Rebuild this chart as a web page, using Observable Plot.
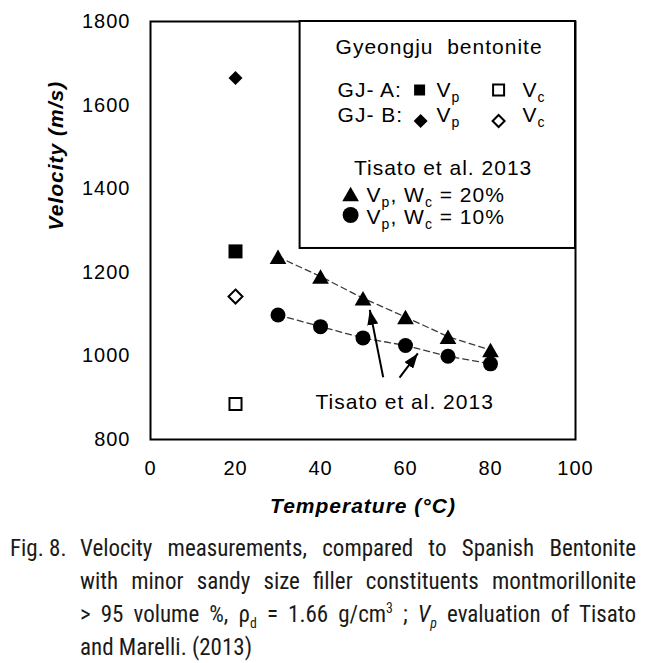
<!DOCTYPE html>
<html>
<head>
<meta charset="utf-8">
<script src="https://cdn.jsdelivr.net/npm/d3@7"></script>
<script src="https://cdn.jsdelivr.net/npm/@observablehq/plot@0.6"></script>
<style>
html,body{margin:0;padding:0;background:#fff;}
#wrap{position:relative;width:654px;height:663px;overflow:hidden;background:#fff;}
#chart{position:absolute;left:0;top:0;}
#chart svg text{letter-spacing:1px;}
#caption{position:absolute;left:0;top:532px;width:654px;font-family:"Liberation Sans Narrow","Roboto Condensed","DejaVu Sans Condensed","Liberation Sans",sans-serif;font-size:23px;line-height:33px;color:#1a1a1a;}
.cl{position:relative;height:33px;}
.cl .fig{position:absolute;left:10px;top:0;white-space:nowrap;}
.cl .txt{position:absolute;left:80px;top:0;white-space:nowrap;transform-origin:0 50%;}
sub,sup{font-size:60%;line-height:0;}
</style>
</head>
<body>
<div id="wrap"><div id="chart"></div><div id="caption"></div></div>
<script>
// ---------- data ----------
const tisatoTemp = [30, 40, 50, 60, 70, 80];
const tisatoVpWc20 = [1237, 1190, 1138, 1093, 1046, 1014];
const tisatoVpWc10 = [1098, 1070, 1043, 1025, 999, 981];
const gjTemp = [20, 20, 20, 20];
const gjLabels = ["GJ-A Vp", "GJ-A Vc", "GJ-B Vp", "GJ-B Vc"];
const gjVelocity = [1250, 885, 1665, 1142];
const xTicks = [0, 20, 40, 60, 80, 100];
const yTicks = [800, 1000, 1200, 1400, 1600, 1800];
const xLabel = "Temperature (°C)";
const yLabel = "Velocity (m/s)";
const annotationText = ["Tisato et al. 2013"];
const annotationX = [59.8];
const annotationY = [890];
const arrowFromX = [54.75, 58.6];
const arrowFromY = [949, 948];
const arrowToX = [51.6, 62.9];
const arrowToY = [1110, 1006];
const legendBoxX = [35.2, 100];
const legendBoxY = [1257, 1800];
const legendTitle = "Gyeongju  bentonite";
const legendRows = ["GJ- A:", "GJ- B:"];
const legendVp = "V_p";
const legendVc = "V_c";
const legendTisatoTitle = "Tisato et al. 2013";
const legendTisatoRows = ["V_p, W_c = 20%", "V_p, W_c = 10%"];
const captionFig = "Fig. 8.";
const captionLines = [
  "Velocity measurements, compared to Spanish Bentonite",
  "with minor sandy size filler constituents montmorillonite",
  "&gt; 95 volume %, &rho;<sub>d</sub> = 1.66 g/cm<sup>3</sup> ; <i>V<sub>p</sub></i> evaluation of Tisato",
  "and Marelli. (2013)"
];

// ---------- tables ----------
const w20 = tisatoTemp.map((t, i) => ({t, v: tisatoVpWc20[i]}));
const w10 = tisatoTemp.map((t, i) => ({t, v: tisatoVpWc10[i]}));
const gj = gjLabels.map((label, i) => ({label, t: gjTemp[i], v: gjVelocity[i]}));
const pick = (l) => gj.filter((d) => d.label === l);
const arrows = d3.range(arrowFromX.length);

const FONT = "'Liberation Sans', Arial, Helvetica, sans-serif";

function filledArrow(color) {
  const m = d3.create("svg:marker")
    .attr("viewBox", "-15 -5.5 15 11")
    .attr("markerWidth", 15).attr("markerHeight", 11)
    .attr("markerUnits", "userSpaceOnUse")
    .attr("orient", "auto").attr("refX", 0).attr("refY", 0);
  m.append("path").attr("d", "M-15,-5.5L0,0L-15,5.5Z").attr("fill", color).attr("stroke", "none");
  return m.node();
}

function build(marker) {
  return Plot.plot({
    width: 654,
    height: 530,
    marginLeft: 150,
    marginRight: 79,
    marginTop: 21,
    marginBottom: 91,
    x: {domain: [0, 100]},
    y: {domain: [800, 1800]},
    style: {fontFamily: FONT, fontSize: "20px", color: "black", background: "white", overflow: "visible"},
    marks: [
      Plot.axisX({ticks: xTicks, tickSize: 0, tickPadding: 21, label: null, fontSize: 20, tickFormat: (d) => String(d)}),
      Plot.axisY({ticks: yTicks, tickSize: 0, tickPadding: 20, label: null, fontSize: 20, tickFormat: (d) => String(d)}),
      Plot.line(w20, {x: "t", y: "v", stroke: "#3a3a3a", strokeWidth: 1.3, strokeDasharray: "6,4"}),
      Plot.line(w10, {x: "t", y: "v", stroke: "#3a3a3a", strokeWidth: 1.3, strokeDasharray: "6,4"}),
      Plot.dot(w20, {x: "t", y: "v", symbol: "triangle", r: 6.2, fill: "black", dy: 2.4}),
      Plot.dot(w10, {x: "t", y: "v", symbol: "circle", r: 7.5, fill: "black"}),
      Plot.dot(pick("GJ-A Vp"), {x: "t", y: "v", symbol: "square", r: 7.9, fill: "black"}),
      Plot.dot(pick("GJ-A Vc"), {x: "t", y: "v", symbol: "square", r: 6.8, fill: "white", stroke: "black", strokeWidth: 2}),
      Plot.dot(pick("GJ-B Vp"), {x: "t", y: "v", symbol: "diamond2", r: 6.3, fill: "black"}),
      Plot.dot(pick("GJ-B Vc"), {x: "t", y: "v", symbol: "diamond2", r: 6.3, fill: "white", stroke: "black", strokeWidth: 2}),
      Plot.link(arrows, {
        x1: (i) => arrowFromX[i], y1: (i) => arrowFromY[i],
        x2: (i) => arrowToX[i], y2: (i) => arrowToY[i],
        stroke: "black", strokeWidth: 2, markerEnd: marker
      }),
      Plot.text(annotationText, {x: (d, i) => annotationX[i], y: (d, i) => annotationY[i], text: (d) => d, fontSize: 21, fill: "black"}),
      Plot.text([xLabel], {text: (d) => d, frameAnchor: "bottom", dy: 67, lineAnchor: "middle", fontSize: 21, fontWeight: "bold", fontStyle: "italic", fill: "black"}),
      Plot.text([yLabel], {text: (d) => d, frameAnchor: "left", dx: -94.5, rotate: -90, lineAnchor: "middle", fontSize: 21, fontWeight: "bold", fontStyle: "italic", fill: "black"}),
      Plot.frame({stroke: "black", strokeWidth: 2})
    ]
  });
}

let plot;
try { plot = build(filledArrow); } catch (e) { plot = build("arrow"); }
document.getElementById("chart").appendChild(plot);

// ---------- legend (positioned via the plot's scales) ----------
const svg = d3.select(plot);
const xs = plot.scale("x"), ys = plot.scale("y");
const lx = xs.apply(legendBoxX[0]), rx = xs.apply(legendBoxX[1]);
const ty = ys.apply(legendBoxY[1]), by = ys.apply(legendBoxY[0]);
const lg = svg.append("g").attr("font-family", FONT).attr("font-size", 21).attr("fill", "black");
lg.append("rect").attr("x", lx).attr("y", ty).attr("width", rx - lx).attr("height", by - ty)
  .attr("fill", "white").attr("stroke", "black").attr("stroke-width", 2);

function rich(x, y, str, anchor = "start") {
  const t = lg.append("text").attr("x", x).attr("y", y).attr("text-anchor", anchor).style("white-space", "pre");
  let shifted = false;
  for (const part of str.split(/(_\w)/)) {
    if (!part) continue;
    if (part[0] === "_") {
      t.append("tspan").attr("font-size", 14).attr("dy", shifted ? 0 : 5).text(part[1]);
      shifted = true;
    } else {
      t.append("tspan").attr("dy", shifted ? -5 : 0).text(part);
      shifted = false;
    }
  }
}
function sym(type, size, cx, cy, filled) {
  lg.append("path").attr("d", d3.symbol(type, size)()).attr("transform", `translate(${cx},${cy})`)
    .attr("fill", filled ? "black" : "white").attr("stroke", filled ? "none" : "black").attr("stroke-width", 2);
}

rich(lx + 139.5, ty + 33, legendTitle, "middle");
rich(lx + 38, ty + 76, legendRows[0]);
rich(lx + 38, ty + 101, legendRows[1]);
sym(d3.symbolSquare, 121, lx + 120, ty + 69, true);
rich(lx + 137, ty + 76, legendVp);
sym(d3.symbolSquare, 121, lx + 199, ty + 69, false);
rich(lx + 223, ty + 76, legendVc);
sym(d3.symbolDiamond2, 125, lx + 121, ty + 100, true);
rich(lx + 137, ty + 101, legendVp);
sym(d3.symbolDiamond2, 92, lx + 199, ty + 100, false);
rich(lx + 223, ty + 101, legendVc);
rich(lx + 143.5, ty + 154, legendTisatoTitle, "middle");
sym(d3.symbolTriangle, 120, lx + 51, ty + 175.4, true);
rich(lx + 67, ty + 181, legendTisatoRows[0]);
lg.append("circle").attr("cx", lx + 51).attr("cy", ty + 194).attr("r", 8).attr("fill", "black");
rich(lx + 67, ty + 203, legendTisatoRows[1]);

// ---------- caption ----------
const cap = document.getElementById("caption");
const target = 556;
captionLines.forEach((html, i) => {
  const line = document.createElement("div");
  line.className = "cl";
  if (i === 0) {
    const f = document.createElement("span");
    f.className = "fig";
    f.textContent = captionFig;
    line.appendChild(f);
  }
  const s = document.createElement("span");
  s.className = "txt";
  s.innerHTML = html;
  line.appendChild(s);
  cap.appendChild(line);
  const w = s.getBoundingClientRect().width;
  if (i < captionLines.length - 1) {
    if (w < target) {
      const n = (s.textContent.match(/ /g) || []).length;
      s.style.wordSpacing = ((target - w) / n) + "px";
    } else {
      s.style.transform = `scaleX(${target / w})`;
    }
  } else if (w > target) {
    s.style.transform = `scaleX(${target / w})`;
  }
});
</script>
</body>
</html>
